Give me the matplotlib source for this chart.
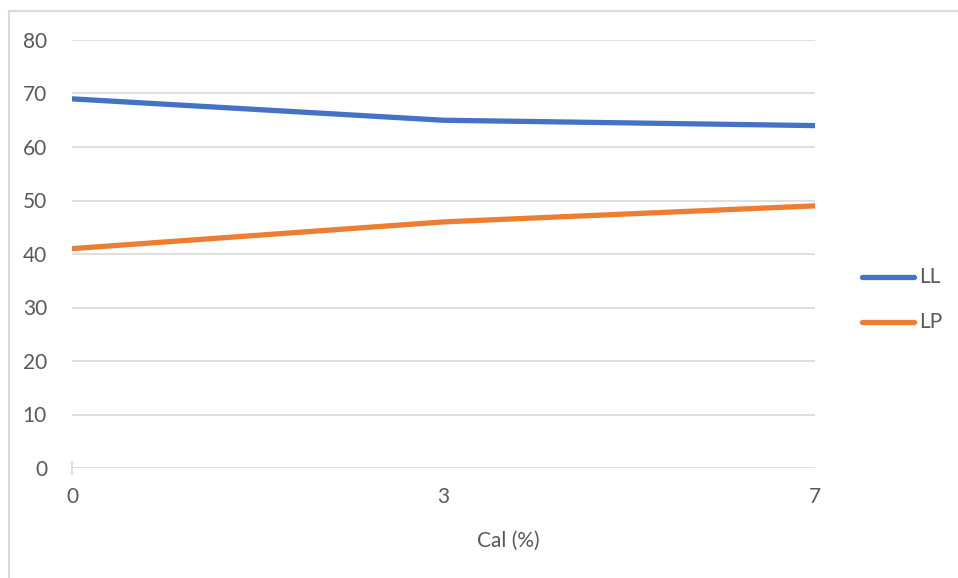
import matplotlib
matplotlib.use("Agg")
import matplotlib.pyplot as plt
from matplotlib.lines import Line2D

# Data
categories = ["0", "3", "7"]
series_names = ["LL", "LP"]
ll_values = [69, 65, 64]
lp_values = [41, 46, 49]

plt.rcParams["font.family"] = ["Lato", "DejaVu Sans"]
text_color = "#595959"
colors = ["#4472C4", "#ED7D31"]
W, H = 958, 578

fig = plt.figure(figsize=(W / 100, H / 100), dpi=100)
ax = fig.add_axes([72 / W, 1 - 468 / H, (815 - 72) / W, (468 - 40) / H])

x = range(len(categories))
for vals, name, c in zip([ll_values, lp_values], series_names, colors):
    ax.plot(x, vals, color=c, lw=3.8, solid_capstyle="round", label=name)

# Axes and grid
ax.set_xlim(0, len(categories) - 1)
ax.set_ylim(0, 80)
ax.set_yticks(range(0, 81, 10))
ax.set_xticks(list(x))
ax.set_xticklabels(categories)
ax.grid(axis="y", color="#D9D9D9", lw=1.2)
ax.set_axisbelow(True)
for s in ax.spines.values():
    s.set_visible(False)
ax.tick_params(axis="both", length=0, labelsize=15, colors=text_color)
ax.tick_params(axis="y", pad=18)
ax.tick_params(axis="x", pad=14)

# axis title, centred like Excel over the whole chart area
fig.text(508 / W, 1 - 541 / H, "Cal (%)", fontsize=15, color=text_color,
         ha="center", va="center")

# small tick at the origin
ax.plot([0, 0], [-1.2, 1.2], color="#D9D9D9", lw=1.2, clip_on=False, zorder=1)

# Legend on the right
for i, (name, c) in enumerate(zip(series_names, colors)):
    yy = 1 - (277 + 45 * i) / H
    fig.add_artist(Line2D([862 / W, 914 / W], [yy, yy], color=c, lw=3.8,
                          solid_capstyle="round"))
    fig.text(919 / W, yy, name, fontsize=15, color=text_color, ha="left", va="center")

# Chart border
fig.add_artist(Line2D([9 / W, 9 / W], [0, 1 - 11 / H], color="#D9D9D9", lw=1.5))
fig.add_artist(Line2D([9 / W, 1], [1 - 11 / H, 1 - 11 / H], color="#D9D9D9", lw=1.5))

fig.savefig("out.png", dpi=100)
